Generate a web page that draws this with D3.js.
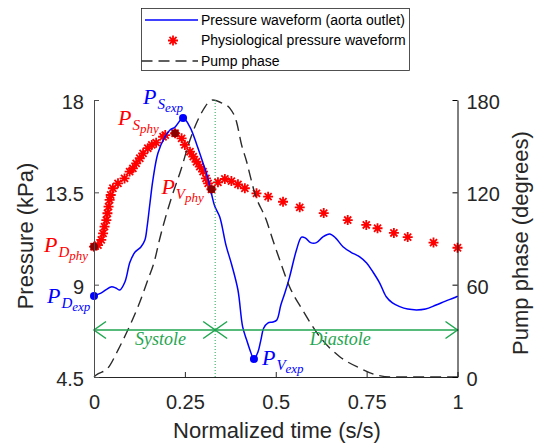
<!DOCTYPE html>
<html>
<head>
<meta charset="utf-8">
<script src="https://cdn.jsdelivr.net/npm/d3@7"></script>
<style>
  body { margin: 0; background: #fff; }
  svg { display: block; }
</style>
</head>
<body>
<div id="chart"></div>
<script>
// Measured waveform at the aorta outlet (normalized time, kPa)
const timeExp = [0, 0.019, 0.047, 0.060, 0.071, 0.085, 0.099, 0.113, 0.129, 0.140, 0.146, 0.154, 0.162, 0.176,
  0.195, 0.209, 0.223, 0.245, 0.264, 0.283, 0.299, 0.313, 0.324, 0.332, 0.346, 0.363, 0.379, 0.396, 0.409,
  0.420, 0.429, 0.440, 0.451, 0.459, 0.467, 0.478, 0.492, 0.503, 0.514, 0.525, 0.538, 0.557, 0.571, 0.582,
  0.596, 0.612, 0.629, 0.648, 0.665, 0.685, 0.706, 0.731, 0.750, 0.767, 0.786, 0.804, 0.821, 0.841, 0.863,
  0.887, 0.912, 0.941, 0.967, 0.997, 1];
const pressExp = [8.45, 8.59, 8.89, 8.84, 8.74, 9.13, 10.10, 10.59, 10.84, 11.18, 11.81, 12.98, 14.10, 15.42,
  16.20, 16.54, 16.68, 17.12, 16.68, 15.81, 14.98, 14.20, 13.37, 12.83, 12.30, 10.93, 9.96, 8.74, 6.94,
  6.30, 5.82, 5.38, 5.72, 6.30, 6.89, 7.13, 7.18, 7.28, 8.01, 8.59, 9.37, 10.69, 11.32, 11.27,
  11.05, 11.05, 11.32, 11.47, 11.27, 10.85, 10.59, 10.36, 10.06, 9.63, 9.08, 8.41, 8.11, 7.93, 7.81,
  7.77, 7.81, 8.01, 8.20, 8.41, 8.45];

// Physiological waveform (stars)
const timePhy = [0, 0.011, 0.020, 0.025, 0.029, 0.034, 0.037, 0.040, 0.043, 0.046, 0.052, 0.066, 0.084, 0.098,
  0.107, 0.116, 0.126, 0.135, 0.148, 0.159, 0.171, 0.190, 0.196, 0.223, 0.241, 0.250, 0.264, 0.273, 0.282,
  0.291, 0.300, 0.308, 0.314, 0.323, 0.341, 0.360, 0.378, 0.396, 0.415, 0.447, 0.479, 0.520, 0.566, 0.632,
  0.698, 0.749, 0.780, 0.825, 0.863, 0.934, 1];
const pressPhy = [10.85, 10.93, 11.18, 11.50, 11.83, 12.15, 12.48, 12.80, 13.13, 13.37, 13.70, 13.94, 14.18, 14.51,
  14.67, 14.91, 15.16, 15.40, 15.65, 15.81, 15.92, 16.21, 16.29, 16.38, 16.13, 15.81, 15.48, 15.24, 14.99,
  14.75, 14.51, 14.18, 13.94, 13.65, 13.99, 14.15, 14.05, 13.89, 13.70, 13.45, 13.29, 13.04, 12.77, 12.49,
  12.15, 11.91, 11.75, 11.52, 11.32, 11.05, 10.80];

// Pump phase (degrees, right axis)
const timePump = [0, 0.006, 0.038, 0.066, 0.093, 0.121, 0.148, 0.167, 0.180, 0.212, 0.239, 0.264, 0.297, 0.319,
  0.327, 0.352, 0.374, 0.392, 0.406, 0.420, 0.429, 0.442, 0.474, 0.492, 0.511, 0.538, 0.574, 0.621, 0.676,
  0.731, 0.777, 0.821, 1];
const phasePump = [0, 1.3, 5.7, 17.5, 30.5, 45.7, 63.0, 76.0, 89.0, 115.7, 134.5, 154.0, 172.2, 179.3,
  180, 178, 174.6, 165.9, 150.8, 139.9, 131.3, 119.6, 102.0, 89.0, 76.0, 58.7, 43.5, 26.2, 13.2,
  5.8, 1.3, 0, 0];

const xTicks = [0, 0.25, 0.5, 0.75, 1];
const xTickLabels = ["0", "0.25", "0.5", "0.75", "1"];
const yLeftTicks = [4.5, 9, 13.5, 18];
const yLeftLabels = ["4.5", "9", "13.5", "18"];
const yRightTicks = [0, 60, 120, 180];
const phaseBounds = [0, 1 / 3, 1];
const phaseNames = ["Systole", "Diastole"];
const legendNames = ["Pressure waveform (aorta outlet)", "Physiological pressure waveform", "Pump phase"];

const width = 539, height = 447;
const green = "#1fa64f";
const font = "'Liberation Sans', Arial, sans-serif";
const mathFont = "'Liberation Serif', 'Times New Roman', serif";

const svg = d3.select("#chart").append("svg")
  .attr("width", width)
  .attr("height", height)
  .style("background", "#fff");

const x = d3.scaleLinear().domain([0, 1]).range([94, 457.5]);
const y = d3.scaleLinear().domain([4.5, 18]).range([377, 100]);
const y2 = d3.scaleLinear().domain([0, 180]).range([377, 100]);

// star marker like MATLAB '*'
function starPath(r) {
  const k = r * 0.7071;
  return `M${-r},0L${r},0M0,${-r}L0,${r}M${-k},${-k}L${k},${k}M${-k},${k}L${k},${-k}`;
}

// Physiological waveform stars
svg.append("g").selectAll("path")
  .data(timePhy.map((t, i) => [t, pressPhy[i]]))
  .join("path")
  .attr("d", starPath(5))
  .attr("transform", d => `translate(${x(d[0])},${y(d[1])})`)
  .attr("stroke", "#ff0000")
  .attr("stroke-width", 1.8)
  .attr("fill", "none");

// Measured pressure line
const lineExp = d3.line()
  .x((d, i) => x(timeExp[i]))
  .y(d => y(d))
  .curve(d3.curveCatmullRom.alpha(0.5));
svg.append("path")
  .attr("d", lineExp(pressExp))
  .attr("fill", "none")
  .attr("stroke", "#0000ff")
  .attr("stroke-width", 1.5);

// Pump phase, dashed
const linePump = d3.line()
  .x((d, i) => x(timePump[i]))
  .y(d => y2(d))
  .curve(d3.curveMonotoneX);
svg.append("path")
  .attr("d", linePump(phasePump))
  .attr("fill", "none")
  .attr("stroke", "#2b2b2b")
  .attr("stroke-width", 1.4)
  .attr("stroke-dasharray", "11,6");

// Systole / diastole boundary
svg.append("line")
  .attr("x1", x(phaseBounds[1])).attr("x2", x(phaseBounds[1]))
  .attr("y1", y(18)).attr("y2", y(4.5))
  .attr("stroke", green)
  .attr("stroke-width", 1)
  .attr("stroke-dasharray", "1,2");

// Double-headed arrows for the phases
const arrowY = 330, headL = 12, headW = 8.5;
phaseNames.forEach((name, i) => {
  const a = x(phaseBounds[i]), b = x(phaseBounds[i + 1]);
  const g = svg.append("g").attr("stroke", green).attr("stroke-width", 1.5).attr("fill", "none");
  g.append("line").attr("x1", a).attr("x2", b).attr("y1", arrowY).attr("y2", arrowY);
  g.append("polyline").attr("points", `${a + headL},${arrowY - headW} ${a},${arrowY} ${a + headL},${arrowY + headW}`);
  g.append("polyline").attr("points", `${b - headL},${arrowY - headW} ${b},${arrowY} ${b - headL},${arrowY + headW}`);
  svg.append("text")
    .attr("x", (a + b) / 2 + (i === 0 ? 6 : 4))
    .attr("y", arrowY + 15)
    .attr("text-anchor", "middle")
    .attr("font-family", mathFont)
    .attr("font-style", "italic")
    .attr("font-size", 18)
    .attr("fill", green)
    .text(name);
});

// Key points
const iSexp = d3.maxIndex(pressExp), iVexp = d3.minIndex(pressExp);
const iSphy = d3.maxIndex(pressPhy);
let iVphy = iSphy;
for (let i = iSphy; i < timePhy.length - 1 && pressPhy[i + 1] < pressPhy[i]; i++) iVphy = i + 1;

const keyPoints = [
  { t: timeExp[0], p: pressExp[0], c: "#0000ff", s: "D", ss: "exp", dx: -47, dy: 7 },
  { t: timeExp[iSexp], p: pressExp[iSexp], c: "#0000ff", s: "S", ss: "exp", dx: -40, dy: -14 },
  { t: timeExp[iVexp], p: pressExp[iVexp], c: "#0000ff", s: "V", ss: "exp", dx: 8, dy: 6 },
  { t: timePhy[0], p: pressPhy[0], c: "#8b0000", lc: "#ff0000", s: "D", ss: "phy", dx: -50, dy: 5 },
  { t: timePhy[iSphy], p: pressPhy[iSphy], c: "#8b0000", lc: "#ff0000", s: "S", ss: "phy", dx: -57, dy: -8 },
  { t: timePhy[iVphy], p: pressPhy[iVphy], c: "#8b0000", lc: "#ff0000", s: "V", ss: "phy", dx: -50, dy: 5 }
];

keyPoints.forEach(k => {
  const cx = x(k.t), cy = y(k.p);
  svg.append("circle").attr("cx", cx).attr("cy", cy).attr("r", 4).attr("fill", k.c);
  const t = svg.append("text")
    .attr("x", cx + k.dx).attr("y", cy + k.dy)
    .attr("fill", k.lc || k.c)
    .attr("font-family", mathFont)
    .attr("font-style", "italic");
  t.append("tspan").attr("font-size", 22).text("P");
  t.append("tspan").attr("font-size", 15).attr("dy", 5).attr("dx", 1).text(k.s);
  t.append("tspan").attr("font-size", 13).attr("dy", 3).text(k.ss);
});

// Axes
function styleAxis(g, lineColor) {
  g.selectAll("path.domain").attr("stroke", lineColor).attr("stroke-width", 1);
  g.selectAll(".tick line").attr("stroke", lineColor);
  g.selectAll("text").attr("font-family", font).attr("font-size", 20).attr("fill", "#262626");
}

svg.append("g")
  .attr("transform", `translate(0,${y(4.5)})`)
  .call(d3.axisBottom(x).tickValues(xTicks).tickSize(-5).tickSizeOuter(0).tickPadding(18)
    .tickFormat((d, i) => xTickLabels[i]))
  .call(g => styleAxis(g, "#262626"));

svg.append("g")
  .attr("transform", `translate(${x(0)},0)`)
  .call(d3.axisLeft(y).tickValues(yLeftTicks).tickSize(-5).tickSizeOuter(0).tickPadding(10)
    .tickFormat((d, i) => yLeftLabels[i]))
  .call(g => styleAxis(g, "#4d4d4d"))
  .call(g => g.selectAll("text").attr("dy", "0.42em"));

svg.append("g")
  .attr("transform", `translate(${x(1)},0)`)
  .call(d3.axisRight(y2).tickValues(yRightTicks).tickSize(-5).tickSizeOuter(0).tickPadding(9))
  .call(g => styleAxis(g, "#000"))
  .call(g => g.selectAll("text").attr("dy", "0.42em"));

// Axis titles
svg.append("text")
  .attr("transform", `translate(33,236) rotate(-90)`)
  .attr("text-anchor", "middle")
  .attr("font-family", font).attr("font-size", 22).attr("fill", "#262626")
  .text("Pressure (kPa)");

svg.append("text")
  .attr("transform", `translate(528,243) rotate(-90)`)
  .attr("text-anchor", "middle")
  .attr("font-family", font).attr("font-size", 22).attr("fill", "#262626")
  .text("Pump phase (degrees)");

svg.append("text")
  .attr("x", 277).attr("y", 438)
  .attr("text-anchor", "middle")
  .attr("font-family", font).attr("font-size", 22).attr("fill", "#262626")
  .text("Normalized time (s/s)");

// Legend
const legend = svg.append("g");
legend.append("rect")
  .attr("x", 141.5).attr("y", 8.5).attr("width", 268).attr("height", 62)
  .attr("fill", "#fff").attr("stroke", "#262626").attr("stroke-width", 0.8);
const rowY = [20, 40.5, 61];
legend.append("line").attr("x1", 145).attr("x2", 198).attr("y1", rowY[0]).attr("y2", rowY[0])
  .attr("stroke", "#0000ff").attr("stroke-width", 1.5);
legend.append("path").attr("d", starPath(5)).attr("transform", `translate(173,${rowY[1]})`)
  .attr("stroke", "#ff0000").attr("stroke-width", 1.8);
legend.append("line").attr("x1", 141.5).attr("x2", 198).attr("y1", rowY[2]).attr("y2", rowY[2])
  .attr("stroke", "#2b2b2b").attr("stroke-width", 1.4).attr("stroke-dasharray", "11,6");
legendNames.forEach((name, i) => {
  legend.append("text")
    .attr("x", 201).attr("y", rowY[i]).attr("dy", "0.35em")
    .attr("font-family", font).attr("font-size", 14).attr("fill", "#000")
    .text(name);
});
</script>
</body>
</html>
